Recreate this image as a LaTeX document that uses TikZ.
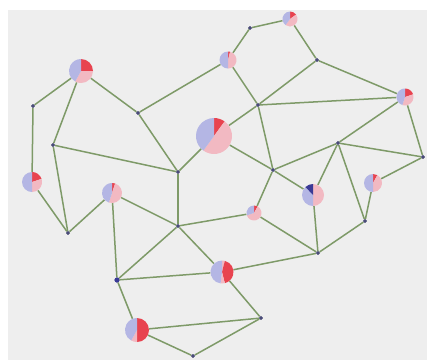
\documentclass[tikz,border=0pt]{standalone}
\definecolor{bgc}{HTML}{EEEEEE}
\definecolor{edgec}{HTML}{7E9A68}
\definecolor{edgeh}{HTML}{A9C890}
\definecolor{lav}{HTML}{B4B6E4}
\definecolor{pnk}{HTML}{F2B9C2}
\definecolor{rd}{HTML}{E8434F}
\definecolor{nav}{HTML}{3A3A96}
\definecolor{dotc}{HTML}{4A4C78}
\tikzset{
  vtx/.style={circle, inner sep=0pt, minimum size=#1},
  dotv/.style={circle, inner sep=0pt, minimum size=3.6pt, fill=dotc},
  edge/.style={edgec, line width=1.5pt},
}
\newcommand{\piechart}[3]{%
  \begin{scope}[shift={(#1.center)}, x=1pt, y=1pt]
    \gdef\cumfrac{0}%
    \foreach \f/\c in {#3} {%
      \pgfmathsetmacro\angA{90-360*\cumfrac}%
      \pgfmathsetmacro\angB{90-360*(\cumfrac+\f)}%
      \fill[\c] (0,0) -- (\angA:#2) arc[start angle=\angA, end angle=\angB, radius=#2] -- cycle;%
      \pgfmathsetmacro\newcum{\cumfrac+\f}%
      \global\let\cumfrac\newcum
    }%
  \end{scope}%
}
\begin{document}
\begin{tikzpicture}[x=1pt, y=-1pt]
\useasboundingbox (0,0) rectangle (427,360);
\fill[white] (0,0) rectangle (427,360);
\fill[bgc] (8,10) rectangle (427,360);
% pie nodes
\node[vtx=24pt] (A) at (81,71) {};
\node[vtx=20pt] (D) at (32,182) {};
\node[vtx=20pt] (F) at (112,193) {};
\node[vtx=36pt] (I) at (214,136) {};
\node[vtx=17pt] (J) at (228,60) {};
\node[vtx=15pt] (L) at (290,19) {};
\node[vtx=17pt] (O) at (405,97) {};
\node[vtx=22pt] (R) at (313,195) {};
\node[vtx=18pt] (S) at (373,183) {};
\node[vtx=15pt] (V) at (254,213) {};
\node[vtx=23pt] (Y) at (222,272) {};
\node[vtx=24pt] (BB) at (137,330) {};
% dot nodes
\node[dotv] (B) at (33,106) {};
\node[dotv] (C) at (53,145) {};
\node[dotv] (E) at (68,233) {};
\node[dotv] (G) at (138,113) {};
\node[dotv] (H) at (178,172) {};
\node[dotv] (K) at (250,28) {};
\node[dotv] (M) at (317,60) {};
\node[dotv] (N) at (258,105) {};
\node[dotv] (P) at (338,143) {};
\node[dotv] (Q) at (273,170) {};
\node[dotv] (T) at (423,157) {};
\node[dotv] (U) at (365,221) {};
\node[dotv] (W) at (178,226) {};
\node[dotv, minimum size=5pt, fill=nav] (X) at (117,280) {};
\node[dotv] (Z) at (318,253) {};
\node[dotv] (AA) at (261,318) {};
\node[dotv] (CC) at (193,356) {};
% edges
\foreach \a/\b in {A/B, A/C, A/G, B/D, D/E, C/E, C/H, G/H, G/J, J/K, K/L, L/M, J/N, M/N, M/O, N/O, N/I, N/Q, I/H, I/Q, O/P, O/T, P/T, P/Q, T/S, P/R, P/U, S/U, Q/R, Q/V, V/W, V/Z, R/Z, U/Z, Z/Y, Y/AA, BB/AA, AA/CC, BB/CC, X/BB, X/W, X/Y, X/F, F/E, F/W, H/W, W/Y}
  \draw[edge] (\a) -- (\b);
% redraw dots on top
\foreach \n in {B,C,E,G,H,K,M,N,P,Q,T,U,W,Z,AA,CC}
  \fill[dotc] (\n.center) circle[radius=1.8pt];
\fill[nav] (X.center) circle[radius=2.5pt];
% pies
\piechart{A}{12}{0.25/rd, 0.33/pnk, 0.42/lav}
\piechart{D}{10}{0.2/rd, 0.3/pnk, 0.5/lav}
\piechart{F}{10}{0.05/rd, 0.5/pnk, 0.45/lav}
\piechart{I}{18}{0.1/rd, 0.5/pnk, 0.4/lav}
\piechart{J}{8.5}{0.04/rd, 0.46/pnk, 0.5/lav}
\piechart{L}{7.5}{0.15/rd, 0.45/pnk, 0.4/lav}
\piechart{O}{8.5}{0.2/rd, 0.35/pnk, 0.45/lav}
\piechart{R}{11}{0.5/pnk, 0.38/lav, 0.12/nav}
\piechart{S}{9}{0.08/rd, 0.42/pnk, 0.5/lav}
\piechart{V}{7.5}{0.08/rd, 0.62/pnk, 0.3/lav}
\piechart{Y}{11.5}{0.04/pnk, 0.42/rd, 0.06/pnk, 0.48/lav}
\piechart{BB}{12}{0.5/rd, 0.08/pnk, 0.42/lav}
\end{tikzpicture}
\end{document}
